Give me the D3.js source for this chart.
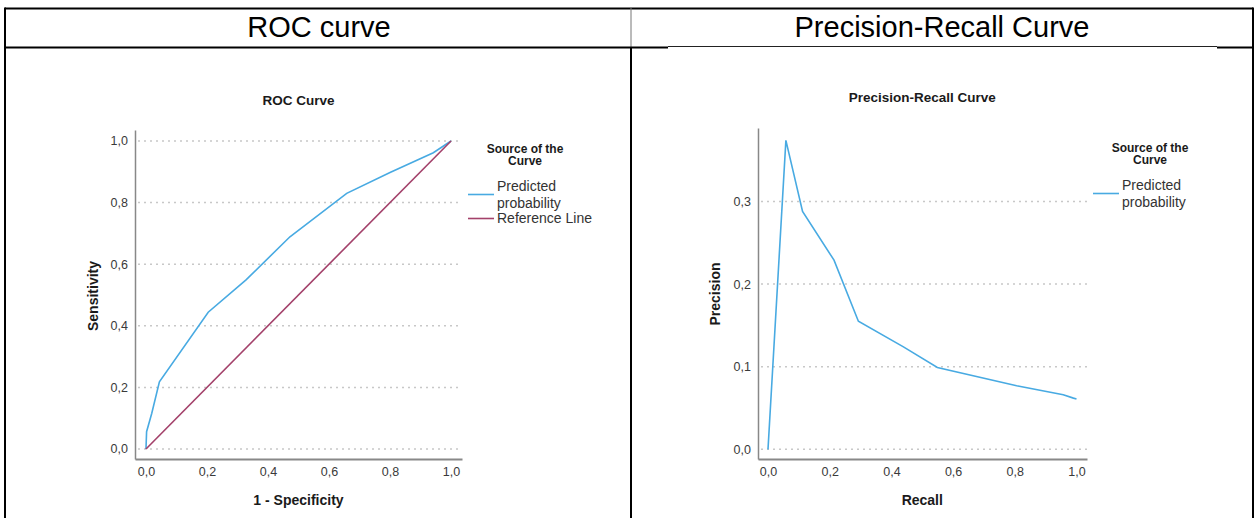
<!DOCTYPE html>
<html>
<head>
<meta charset="utf-8">
<script src="https://cdn.jsdelivr.net/npm/d3@7.9.0/dist/d3.min.js"></script>
<style>
  body { margin: 0; background: #fff; }
  svg { display: block; font-family: "Liberation Sans", Arial, sans-serif; }
</style>
</head>
<body>
<svg id="chart" width="1256" height="518"></svg>
<script>
// ROC data
const rocFpr = [0, 0.002, 0.019, 0.044, 0.204, 0.328, 0.472, 0.658, 0.8, 0.942, 1];
const rocTpr = [0, 0.056, 0.116, 0.218, 0.444, 0.549, 0.689, 0.83, 0.898, 0.962, 1];
const refLine = [0, 1];

// Precision-recall data
const prRecall = [0, 0.058, 0.112, 0.214, 0.293, 0.439, 0.549, 0.806, 0.957, 0.99, 1];
const prPrecision = [0, 0.374, 0.288, 0.229, 0.155, 0.124, 0.099, 0.077, 0.066, 0.062, 0.061];

const rocTicks = [0, 0.2, 0.4, 0.6, 0.8, 1];
const prYTicks = [0, 0.1, 0.2, 0.3];
const headers = ["ROC curve", "Precision-Recall Curve"];

const blue = "#48aae2";
const maroon = "#a3416a";
const fmt = d => d3.format(".1f")(d).replace(".", ",");

const svg = d3.select("#chart");

// table frame
const frame = svg.append("g").attr("stroke", "#000");
frame.append("line").attr("x1", 5).attr("x2", 1253).attr("y1", 8.5).attr("y2", 8.5).attr("stroke-width", 2);
frame.append("line").attr("x1", 5).attr("x2", 5).attr("y1", 7.5).attr("y2", 518).attr("stroke-width", 2);
frame.append("line").attr("x1", 1253).attr("x2", 1253).attr("y1", 7.5).attr("y2", 518).attr("stroke-width", 2);
frame.append("line").attr("x1", 631).attr("x2", 631).attr("y1", 8).attr("y2", 47).attr("stroke-width", 1).attr("stroke", "#777");
frame.append("line").attr("x1", 631).attr("x2", 631).attr("y1", 47).attr("y2", 518).attr("stroke-width", 2);
frame.append("line").attr("x1", 5).attr("x2", 668).attr("y1", 47.5).attr("y2", 47.5).attr("stroke-width", 2);
frame.append("line").attr("x1", 668).attr("x2", 1217).attr("y1", 46.5).attr("y2", 46.5).attr("stroke-width", 1).attr("stroke", "#222");
frame.append("line").attr("x1", 1217).attr("x2", 1253).attr("y1", 47.5).attr("y2", 47.5).attr("stroke-width", 2);

svg.selectAll("text.header")
  .data(headers)
  .enter()
  .append("text")
  .attr("class", "header")
  .attr("x", (d, i) => i === 0 ? 319 : 942)
  .attr("y", 37)
  .attr("text-anchor", "middle")
  .attr("font-size", 29)
  .attr("fill", "#000")
  .text(d => d);

function drawPanel(opt) {
  const g = svg.append("g");
  const x = d3.scaleLinear().domain(opt.xDomain).range(opt.xRange);
  const y = d3.scaleLinear().domain(opt.yDomain).range(opt.yRange);

  // dotted grid
  g.selectAll("line.grid")
    .data(opt.yTicks)
    .enter()
    .append("line")
    .attr("class", "grid")
    .attr("x1", opt.xRange[0] + 3)
    .attr("x2", opt.xRange[1])
    .attr("y1", d => y(d))
    .attr("y2", d => y(d))
    .attr("stroke", "#c8c8c8")
    .attr("stroke-width", 1.5)
    .attr("stroke-dasharray", "2,4");

  const xAxis = g.append("g")
    .attr("transform", `translate(0,${opt.yRange[0]})`)
    .call(d3.axisBottom(x).tickValues(rocTicks).tickSize(0).tickPadding(8).tickFormat(fmt));
  xAxis.select(".domain").attr("stroke", "#888").attr("stroke-width", 2);

  const yAxis = g.append("g")
    .attr("transform", `translate(${opt.xRange[0]},0)`)
    .call(d3.axisLeft(y).tickValues(opt.yTicks).tickSize(0).tickPadding(7).tickFormat(fmt));
  yAxis.select(".domain").attr("stroke", "#888").attr("stroke-width", 1.5);

  g.selectAll(".tick text")
    .attr("font-size", 12.5)
    .attr("fill", "#3a3a3a")
    .attr("font-family", "Liberation Sans, Arial, sans-serif");

  const line = d3.line().x(d => x(d[0])).y(d => y(d[1]));
  opt.series.forEach(s => {
    g.append("path")
      .datum(d3.zip(s.xs, s.ys))
      .attr("d", line)
      .attr("fill", "none")
      .attr("stroke", s.color)
      .attr("stroke-width", 1.6);
  });

  const cx = (x(0) + x(1)) / 2;
  g.append("text")
    .attr("x", cx).attr("y", opt.titleY)
    .attr("text-anchor", "middle")
    .attr("font-weight", "bold").attr("font-size", 13.5).attr("fill", "#1a1a1a")
    .text(opt.title);
  g.append("text")
    .attr("x", cx).attr("y", 505)
    .attr("text-anchor", "middle")
    .attr("font-weight", "bold").attr("font-size", 14).attr("fill", "#1a1a1a")
    .text(opt.xTitle);
  g.append("text")
    .attr("transform", `translate(${opt.yTitleX},${opt.yTitleY}) rotate(-90)`)
    .attr("text-anchor", "middle")
    .attr("font-weight", "bold").attr("font-size", 14).attr("fill", "#1a1a1a")
    .text(opt.yTitle);

  // legend
  const lg = g.append("g");
  lg.selectAll("text.lt")
    .data(["Source of the", "Curve"])
    .enter()
    .append("text")
    .attr("x", opt.legendX + 57)
    .attr("y", (d, i) => opt.legendY + i * 12)
    .attr("text-anchor", "middle")
    .attr("font-weight", "bold").attr("font-size", 12).attr("fill", "#1a1a1a")
    .text(d => d);
  opt.series.forEach((s, i) => {
    const ly = opt.legendY + 40 + i * 25.5;
    lg.append("line")
      .attr("x1", opt.legendX).attr("x2", opt.legendX + 26)
      .attr("y1", ly + (i === 0 ? 1.5 : 0)).attr("y2", ly + (i === 0 ? 1.5 : 0))
      .attr("stroke", s.color).attr("stroke-width", 1.6);
    const lines = s.label.split("\n");
    lines.forEach((t, j) => {
      lg.append("text")
        .attr("x", opt.legendX + 29)
        .attr("y", ly + (lines.length > 1 ? -6.5 + j * 17 : 0))
        .attr("dy", "0.35em")
        .attr("font-size", 14).attr("fill", "#333")
        .text(t);
    });
  });
}

drawPanel({
  xDomain: [-0.036, 1.036], xRange: [135, 462],
  yDomain: [-0.0325, 1.0357], yRange: [459, 130],
  yTicks: rocTicks,
  title: "ROC Curve", titleY: 105,
  xTitle: "1 - Specificity", yTitle: "Sensitivity",
  yTitleX: 98, yTitleY: 296,
  legendX: 468, legendY: 153,
  series: [
    { xs: rocFpr, ys: rocTpr, color: blue, label: "Predicted\nprobability" },
    { xs: refLine, ys: refLine, color: maroon, label: "Reference Line" }
  ]
});

drawPanel({
  xDomain: [-0.0324, 1.034], xRange: [758, 1087],
  yDomain: [-0.0117, 0.389], yRange: [459, 128],
  yTicks: prYTicks,
  title: "Precision-Recall Curve", titleY: 102,
  xTitle: "Recall", yTitle: "Precision",
  yTitleX: 720, yTitleY: 294,
  legendX: 1093, legendY: 152,
  series: [
    { xs: prRecall, ys: prPrecision, color: blue, label: "Predicted\nprobability" }
  ]
});
</script>
</body>
</html>
